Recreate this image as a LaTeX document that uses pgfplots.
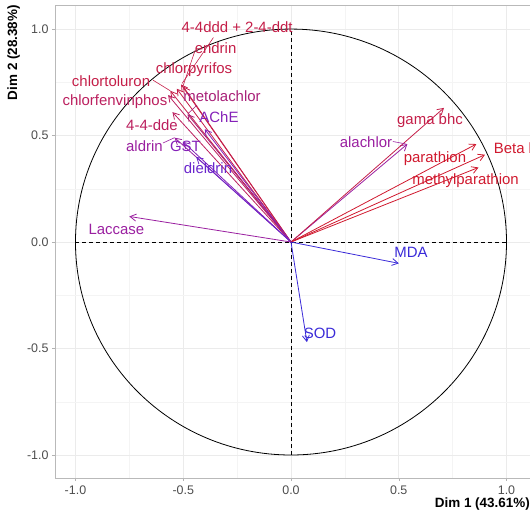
\documentclass[border=0pt]{standalone}
\usepackage{fontspec}
\setmainfont{Liberation Sans}
\usepackage{pgfplots}
\pgfplotsset{compat=1.18}
\usetikzlibrary{arrows.meta}

\definecolor{cred}{HTML}{D0192E}
\definecolor{ccrim}{HTML}{C41E48}
\definecolor{crose}{HTML}{BB1F5E}
\definecolor{cmag}{HTML}{A82078}
\definecolor{cplum}{HTML}{9A1FA0}
\definecolor{cpurp}{HTML}{8420B8}
\definecolor{cviol}{HTML}{6A26CC}
\definecolor{cblue}{HTML}{3A2AD8}
\definecolor{gridmaj}{HTML}{EBEBEB}
\definecolor{gridmin}{HTML}{F4F4F4}
\definecolor{tickc}{HTML}{4D4D4D}

\newcommand{\lab}{\fontsize{15}{17}\selectfont}

\begin{document}
\begin{tikzpicture}
\begin{axis}[
  width=475bp, height=473bp, scale only axis,
  xmin=-1.095, xmax=1.109, ymin=-1.108, ymax=1.113,
  xtick={-1,-0.5,0,0.5,1}, ytick={-1,-0.5,0,0.5,1},
  xticklabels={-1.0,-0.5,0.0,0.5,1.0}, yticklabels={-1.0,-0.5,0.0,0.5,1.0},
  minor xtick={-0.75,-0.25,0.25,0.75}, minor ytick={-0.75,-0.25,0.25,0.75},
  grid=both,
  major grid style={draw=gridmaj, line width=0.7bp},
  minor grid style={draw=gridmin, line width=0.5bp},
  axis line style={draw=gray!55, line width=0.6bp},
  tick pos=left, tick align=outside,
  major tick length=3bp, minor tick length=0bp,
  tick style={draw=gray!60, line width=0.5bp},
  ticklabel style={font=\fontsize{12.5}{14}\selectfont, text=tickc},
  xticklabel style={yshift=-1bp},
  no markers,
  every axis plot/.append style={line width=0.8bp, -{Straight Barb[length=6bp,width=7bp]}},
]
% reference lines and correlation circle
\draw[black, line width=0.8bp, dash pattern=on 4bp off 3bp] (axis cs:0,-1) -- (axis cs:0,1);
\draw[black, line width=0.8bp, dash pattern=on 4bp off 3bp] (axis cs:-1,0) -- (axis cs:1,0);
\draw[black, line width=0.8bp] (axis cs:0,0) ellipse [x radius=1, y radius=1];

% variable arrows
\addplot[ccrim] coordinates {(0,0) (-0.51,0.74)};   % 4-4ddd + 2-4-ddt
\addplot[ccrim] coordinates {(0,0) (-0.50,0.73)};   % endrin
\addplot[ccrim] coordinates {(0,0) (-0.53,0.72)};   % chlorpyrifos
\addplot[ccrim] coordinates {(0,0) (-0.56,0.71)};   % chlortoluron
\addplot[crose] coordinates {(0,0) (-0.57,0.69)};   % chlorfenvinphos
\addplot[cmag]  coordinates {(0,0) (-0.48,0.60)};   % metolachlor
\addplot[crose] coordinates {(0,0) (-0.55,0.61)};   % 4-4-dde
\addplot[cpurp] coordinates {(0,0) (-0.40,0.53)};   % AChE
\addplot[cplum] coordinates {(0,0) (-0.54,0.49)};   % aldrin
\addplot[cpurp] coordinates {(0,0) (-0.50,0.47)};   % GST
\addplot[cviol] coordinates {(0,0) (-0.44,0.40)};   % dieldrin
\addplot[cplum] coordinates {(0,0) (-0.75,0.12)};   % Laccase
\addplot[cplum] coordinates {(0,0) (0.54,0.46)};    % alachlor
\addplot[ccrim] coordinates {(0,0) (0.71,0.63)};    % gama bhc
\addplot[cred]  coordinates {(0,0) (0.86,0.46)};    % parathion
\addplot[cred]  coordinates {(0,0) (0.90,0.41)};    % Beta bhc
\addplot[cred]  coordinates {(0,0) (0.87,0.35)};    % methylparathion
\addplot[cblue] coordinates {(0,0) (0.50,-0.10)};   % MDA
\addplot[cblue] coordinates {(0,0) (0.074,-0.47)};  % SOD

% repel segments
\draw[ccrim, line width=0.6bp] (axis cs:-0.36,0.96) -- (axis cs:-0.505,0.745);
\draw[ccrim, line width=0.6bp] (axis cs:-0.445,0.90) -- (axis cs:-0.50,0.735);
\draw[ccrim, line width=0.6bp] (axis cs:-0.64,0.76) -- (axis cs:-0.56,0.71);
\draw[cmag, line width=0.6bp] (axis cs:-0.436,0.643) -- (axis cs:-0.478,0.603);
\draw[cplum, line width=0.6bp] (axis cs:-0.594,0.465) -- (axis cs:-0.54,0.49);
\draw[cplum, line width=0.6bp] (axis cs:0.473,0.472) -- (axis cs:0.535,0.46);

% labels
\node[text=ccrim, font=\lab] at (axis cs:-0.25,1.01) {4-4ddd + 2-4-ddt};
\node[text=ccrim, font=\lab] at (axis cs:-0.35,0.91) {endrin};
\node[text=ccrim, font=\lab] at (axis cs:-0.45,0.81) {chlorpyrifos};
\node[text=ccrim, font=\lab] at (axis cs:-0.835,0.756) {chlortoluron};
\node[text=crose, font=\lab] at (axis cs:-0.817,0.657) {chlorfenvinphos};
\node[text=cmag, font=\lab] at (axis cs:-0.32,0.685) {metolachlor};
\node[text=crose, font=\lab] at (axis cs:-0.645,0.55) {4-4-dde};
\node[text=cpurp, font=\lab] at (axis cs:-0.334,0.587) {AChE};
\node[text=cplum, font=\lab] at (axis cs:-0.68,0.45) {aldrin};
\node[text=cpurp, font=\lab] at (axis cs:-0.49,0.45) {GST};
\node[text=cviol, font=\lab] at (axis cs:-0.385,0.347) {dieldrin};
\node[text=cplum, font=\lab] at (axis cs:-0.81,0.061) {Laccase};
\node[text=cplum, font=\lab] at (axis cs:0.348,0.47) {alachlor};
\node[text=ccrim, font=\lab] at (axis cs:0.645,0.568) {gama bhc};
\node[text=cred, font=\lab] at (axis cs:0.668,0.39) {parathion};
\node[text=cred, font=\lab, anchor=west] at (axis cs:0.925,0.44) {Beta bhc};
\node[text=cred, font=\lab] at (axis cs:0.81,0.29) {methylparathion};
\node[text=cblue, font=\lab] at (axis cs:0.557,-0.047) {MDA};
\node[text=cblue, font=\lab] at (axis cs:0.135,-0.427) {SOD};
\end{axis}
\node[anchor=north east, inner sep=0pt, font=\bfseries\fontsize{13.5}{15}\selectfont]
  at ([yshift=-20bp]current axis.south east) {Dim 1 (43.61\%)};
\node[anchor=south east, rotate=90, inner sep=0pt, font=\bfseries\fontsize{13.5}{15}\selectfont]
  at ([xshift=-35bp]current axis.north west) {Dim 2 (28.38\%)};
\pgfresetboundingbox
\path ([xshift=-55bp,yshift=-40bp]current axis.south west) rectangle ([yshift=5bp]current axis.north east);
\end{tikzpicture}
\end{document}
